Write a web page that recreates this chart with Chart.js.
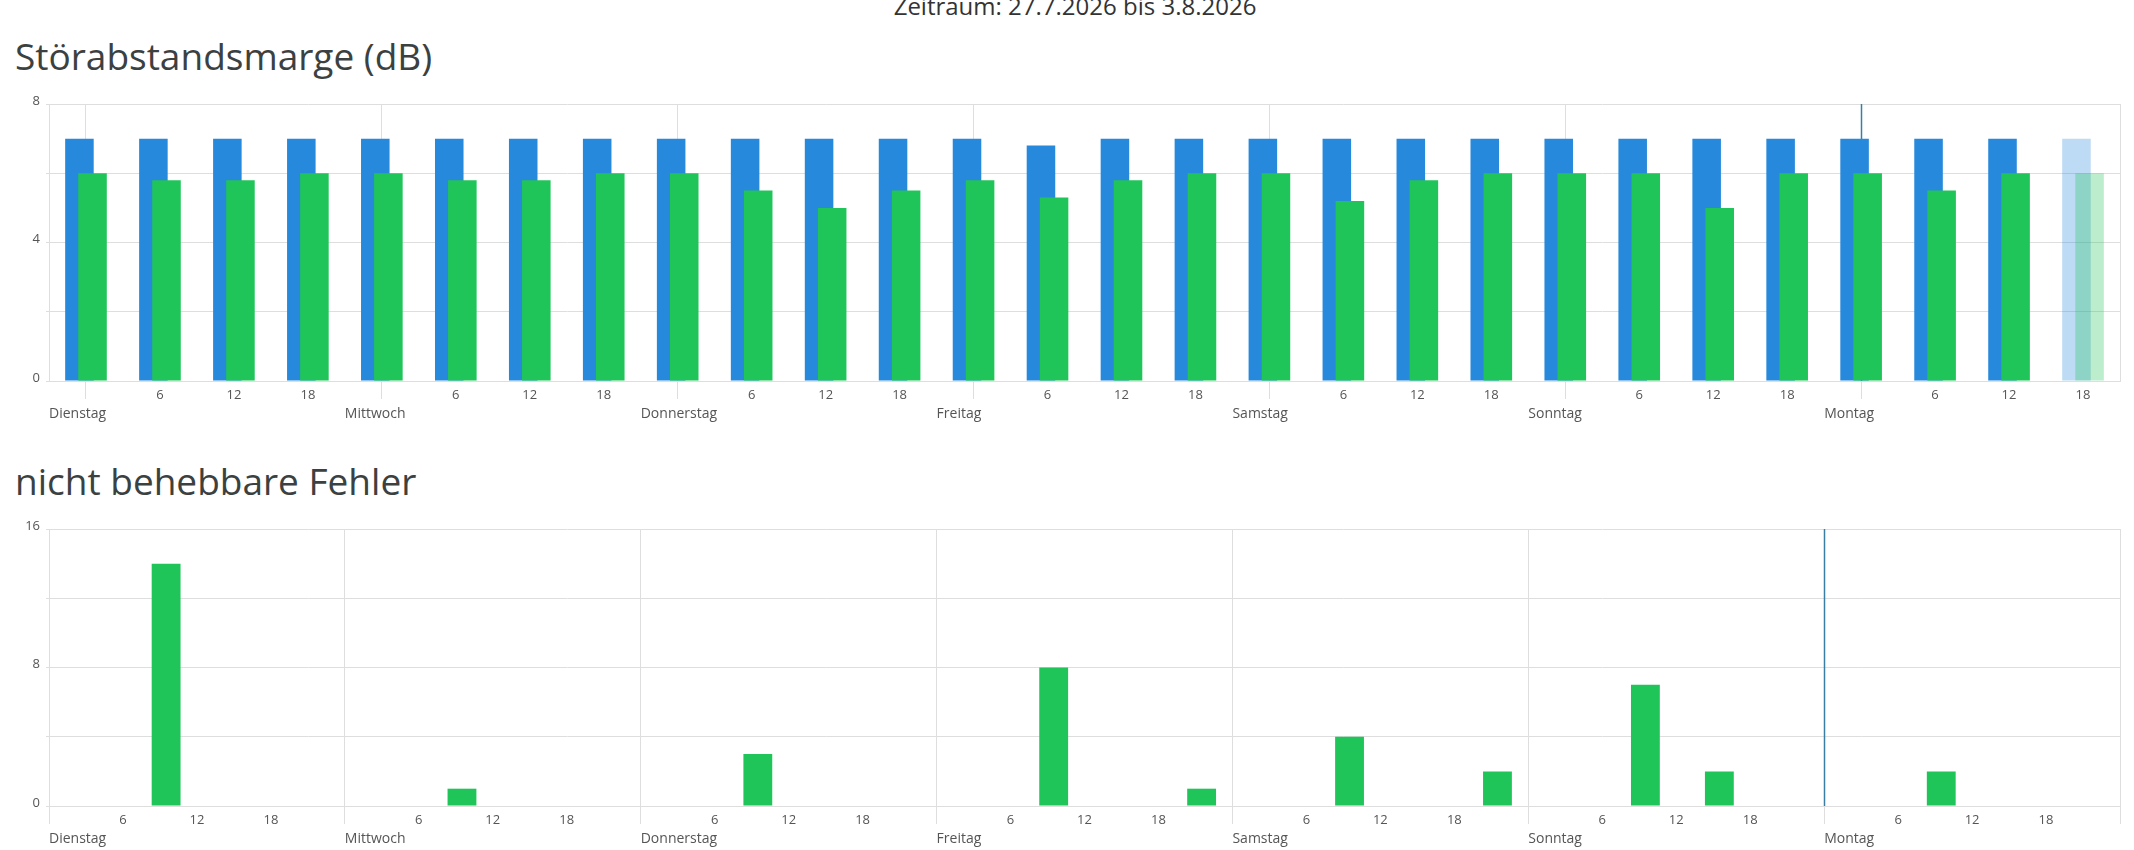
<!DOCTYPE html>
<html lang="de">
<head>
<meta charset="utf-8">
<title>Störabstandsmarge / nicht behebbare Fehler</title>
<script src="https://cdn.jsdelivr.net/npm/chart.js@4.4.1/dist/chart.umd.min.js"></script>
<style>
  html, body { margin: 0; padding: 0; background: #fff; overflow: hidden; }
  body { width: 2134px; height: 850px; position: relative; font-family: 'Open Sans', sans-serif; }
  .period { position: absolute; top: -6px; left: 16px; right: 0; text-align: center; font-size: 24px; line-height: 1; color: #333; }
  h2 { position: absolute; left: 15px; margin: 0; font-weight: 400; font-size: 37px; line-height: 1; color: #3b4141; }
  .box { position: absolute; left: 0; width: 2134px; height: 335px; }
</style>
</head>
<body>
<div class="period">Zeitraum: 27.7.2026 bis 3.8.2026</div>
<h2 style="top:37px">Störabstandsmarge (dB)</h2>
<div class="box" style="top:90px"><canvas id="snr"></canvas></div>
<h2 style="top:462px">nicht behebbare Fehler</h2>
<div class="box" style="top:515px"><canvas id="err"></canvas></div>

<script>
// --- data ---
const days = ['Dienstag', 'Mittwoch', 'Donnerstag', 'Freitag', 'Samstag', 'Sonntag', 'Montag'];
const hourLabels = ['', '6', '12', '18'];
const markerDay = 'Montag';

// SNR margin per 6h slot (Di 0h ... Mo 18h)
const snrBlue  = [7, 7, 7, 7,   7, 7, 7, 7,   7, 7, 7, 7,   7, 6.8, 7, 7,   7, 7, 7, 7,   7, 7, 7, 7,   7, 7, 7, 7];
const snrGreen = [6, 5.8, 5.8, 6,   6, 5.8, 5.8, 6,   6, 5.5, 5, 5.5,   5.8, 5.3, 5.8, 6,   6, 5.2, 5.8, 6,   6, 6, 5, 6,   6, 5.5, 6, 6];
const snrYLabels = [0, 4, 8];

// uncorrectable errors: hours since Dienstag 0:00, count
const errHours  = [9.5, 33.5, 57.5, 81.5, 93.5, 105.5, 117.5, 129.5, 135.5, 153.5];
const errCounts = [14, 1, 3, 8, 1, 4, 2, 7, 2, 2];
const errYLabels = [0, 8, 16];

// --- look ---
const BLUE = '#2689dc', BLUE_OPEN = 'rgba(38,137,220,0.3)';
const GREEN = '#20c55a', GREEN_OPEN = 'rgba(32,197,90,0.3)';
const GRID = '#dedede', TEXT = '#555', MARK = '#3a7fa3';
const FONT = "'Open Sans', sans-serif";

Chart.defaults.font.family = FONT;
Chart.defaults.color = TEXT;

const slotLabels = days.flatMap(() => hourLabels);
const openSlot = snrBlue.length - 1;   // running slot, drawn faded

// vertical "now" line, under the bars
const nowMarker = {
  id: 'nowMarker',
  beforeDatasetsDraw(chart, args, opts) {
    const { ctx, chartArea: a } = chart;
    const x = Math.round(chart.scales.x.getPixelForValue(opts.at)) + 0.5;
    ctx.save();
    ctx.strokeStyle = opts.color;
    ctx.lineWidth = 1.5;
    ctx.beginPath();
    ctx.moveTo(x, a.top);
    ctx.lineTo(x, a.bottom);
    ctx.stroke();
    ctx.restore();
  },
};

// draw datasets in index order so the green bars sit on top of the blue ones
const frontLast = {
  id: 'frontLast',
  beforeDatasetsDraw(chart) {
    chart.getSortedVisibleDatasetMetas().forEach(m => m.controller.draw());
    return false;
  },
};

function yAxis(labels) {
  return {
    min: 0,
    max: labels[labels.length - 1],
    afterFit: s => { s.width = 49; },
    border: { display: true, color: GRID },
    grid: { color: GRID, tickLength: 3 },
    ticks: {
      stepSize: (labels[1] - labels[0]) / 2,
      padding: 6, labelOffset: -3, autoSkip: false,
      font: { size: 13 },
      callback: v => labels.includes(v) ? v : '',
    },
  };
}

function dayAxis() {
  return {
    type: 'category', axis: 'x', position: 'bottom', weight: 1,
    labels: [...days, ''],
    offset: false,
    afterFit: s => { s.height = 23; },
    grid: { display: false, drawTicks: false },
    border: { display: false },
    ticks: { align: 'start', padding: 4, autoSkip: false, maxRotation: 0, font: { size: 14 } },
  };
}

const common = {
  responsive: true,
  maintainAspectRatio: false,
  animation: false,
  events: [],
  layout: { padding: { top: 14, right: 14, left: 0, bottom: 0 } },
};

new Chart(document.getElementById('snr'), {
  type: 'bar',
  data: {
    labels: slotLabels,
    datasets: [
      { label: 'Empfang', data: snrBlue, backgroundColor: c => c.dataIndex === openSlot ? BLUE_OPEN : BLUE },
      { label: 'Senden', data: snrGreen, backgroundColor: c => c.dataIndex === openSlot ? GREEN_OPEN : GREEN },
    ],
  },
  options: {
    ...common,
    datasets: { bar: { categoryPercentage: 0.354, barPercentage: 2.18, borderWidth: 0 } },
    plugins: {
      legend: { display: false },
      tooltip: { enabled: false },
      nowMarker: { at: days.indexOf(markerDay) * hourLabels.length, color: MARK },
    },
    scales: {
      x: {
        offset: true,
        afterFit: s => { s.height = 21; },
        grid: {
          offset: false, tickLength: 18,
          color: c => c.index % hourLabels.length === 0 ? GRID : 'transparent',
        },
        border: { display: true, color: GRID },
        ticks: { padding: -12, autoSkip: false, maxRotation: 0, font: { size: 13 } },
      },
      days: dayAxis(),
      y: yAxis(snrYLabels),
      yRight: {
        axis: 'y', position: 'right',
        afterFit: s => { s.width = 0; },
        grid: { display: true, drawOnChartArea: false, drawTicks: false },
        ticks: { display: false },
        border: { display: true, color: GRID },
      },
    },
  },
  plugins: [nowMarker, frontLast],
});

new Chart(document.getElementById('err'), {
  type: 'bar',
  data: {
    datasets: [{
      label: 'nicht behebbare Fehler',
      data: errHours.map((h, i) => ({ x: h, y: errCounts[i] })),
      backgroundColor: GREEN,
      borderWidth: 0,
      categoryPercentage: 0.39,
      barPercentage: 1,
    }],
  },
  options: {
    ...common,
    plugins: {
      legend: { display: false },
      tooltip: { enabled: false },
      nowMarker: { at: days.indexOf(markerDay) * 24, color: MARK },
    },
    scales: {
      x: {
        type: 'linear', min: 0, max: days.length * 24, offset: false,
        afterFit: s => { s.height = 21; },
        grid: {
          offset: false, tickLength: 18,
          color: c => (c.tick && c.tick.value % 24 === 0) ? GRID : 'transparent',
        },
        border: { display: true, color: GRID },
        ticks: {
          stepSize: 6, autoSkip: false, maxRotation: 0, padding: -12, font: { size: 13 },
          callback: v => hourLabels[(v % 24) / 6],
        },
      },
      days: dayAxis(),
      y: yAxis(errYLabels),
    },
  },
  plugins: [nowMarker],
});
</script>
</body>
</html>
